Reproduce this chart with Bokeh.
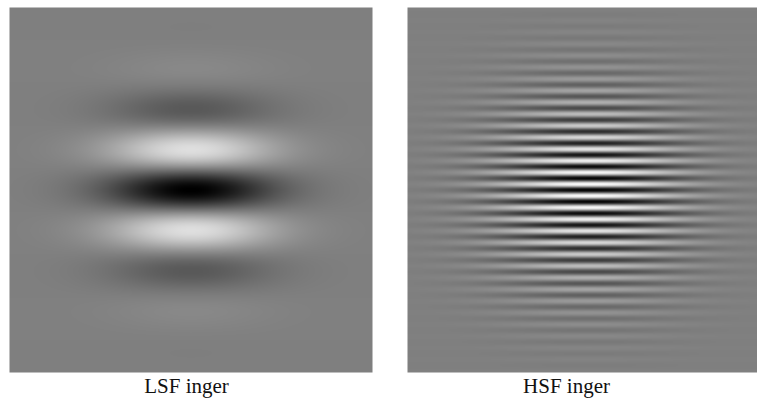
import numpy as np
from bokeh.plotting import figure
from bokeh.models import Range1d, LinearColorMapper
from bokeh.core.properties import value
from bokeh.embed import file_html
from bokeh.resources import INLINE

# Two horizontal Gabor gratings: low and high spatial frequency
panel_labels = ["LSF inger", "HSF inger"]
wavelength_px = [86.0, 11.7]      # grating period, in pixels
sigma_x_px = [58.0, 64.0]         # envelope spread, horizontal
sigma_y_px = [54.0, 63.0]         # envelope spread, vertical
contrast = [1.0, 1.0]
phase = [np.pi, np.pi]            # dark bar through the centre

W, H = 757, 398
panel_left = [9, 407]
panel_top = 7
panel_w, panel_h = 363, 365
label_x = [186, 566]
label_baseline = 385

grey_palette = ["#%02x%02x%02x" % (i, i, i) for i in range(256)]
mapper = LinearColorMapper(palette=grey_palette, low=-1.0, high=1.0)

p = figure(width=W, height=H, output_backend="svg", toolbar_location=None,
           x_range=Range1d(0, W), y_range=Range1d(0, H),
           x_axis_location=None, y_axis_location=None, min_border=0)
p.grid.visible = False
p.outline_line_color = None
p.background_fill_color = "white"
p.border_fill_color = "white"

xs = np.arange(panel_w) + 0.5 - panel_w / 2.0
ys = np.arange(panel_h) + 0.5 - panel_h / 2.0
gx, gy = np.meshgrid(xs, ys)

for i in range(2):
    env = np.exp(-(gx ** 2) / (2 * sigma_x_px[i] ** 2) - (gy ** 2) / (2 * sigma_y_px[i] ** 2))
    patch = contrast[i] * env * np.cos(2 * np.pi * gy / wavelength_px[i] + phase[i])
    p.image(image=[patch], x=panel_left[i], y=H - (panel_top + panel_h),
            dw=panel_w, dh=panel_h, color_mapper=mapper)

p.text(x=label_x, y=[H - label_baseline] * 2, text=panel_labels,
       text_font=value("'Liberation Serif', serif"), text_font_size="21px",
       text_align="center", text_baseline="alphabetic", text_color="#111111")

open("out.html", "w").write(file_html(p, INLINE))
